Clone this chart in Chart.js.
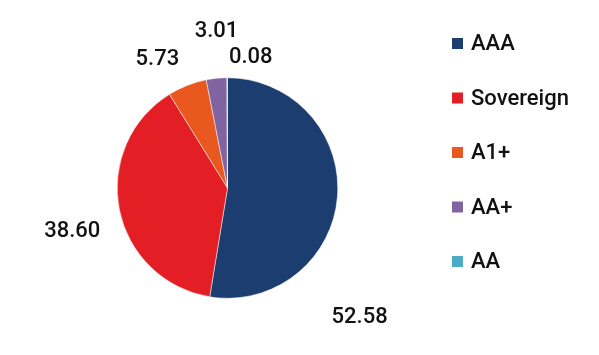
<!DOCTYPE html>
<html>
<head>
<meta charset="utf-8">
<script src="https://cdn.jsdelivr.net/npm/chart.js@4/dist/chart.umd.min.js"></script>
<style>
  html, body { margin: 0; padding: 0; background: #ffffff; }
  #wrap { width: 599px; height: 355px; position: relative; }
</style>
</head>
<body>
<div id="wrap"><canvas id="c" width="599" height="355"></canvas></div>
<script>
const categories = ["AAA", "Sovereign", "A1+", "AA+", "AA"];
const shares = [52.58, 38.60, 5.73, 3.01, 0.08];
const valueLabels = ["52.58", "38.60", "5.73", "3.01", "0.08"];
const colors = ["#1b3d6f", "#e31e24", "#e9581f", "#8064a2", "#4bacc6"];

const FONT = "Roboto, 'Noto Sans', Arial, sans-serif";

// label placement relative to slice: angle offset (deg) from mid-angle, radial factor
const labelPlacement = [
  { da: 39.5, k: 1.67 },
  { da: -4.0, k: 1.46 },
  { da: -7.0, k: 1.336 },
  { da: 1.7, k: 1.43 },
  { da: 10.2, k: 1.21 }
];

const valueLabelPlugin = {
  id: "valueLabels",
  afterDatasetsDraw(chart) {
    const ctx = chart.ctx;
    const meta = chart.getDatasetMeta(0);
    ctx.save();
    ctx.font = "500 22px " + FONT;
    ctx.fillStyle = "#111111";
    ctx.textAlign = "center";
    ctx.textBaseline = "middle";
    meta.data.forEach((arc, i) => {
      const p = arc.getProps(["x", "y", "startAngle", "endAngle", "outerRadius"], true);
      const mid = (p.startAngle + p.endAngle) / 2 + labelPlacement[i].da * Math.PI / 180;
      const r = p.outerRadius * labelPlacement[i].k;
      ctx.fillText(valueLabels[i], p.x + Math.cos(mid) * r, p.y + Math.sin(mid) * r + 1);
    });
    ctx.restore();
  }
};

const legendPlugin = {
  id: "sideLegend",
  afterDraw(chart) {
    const ctx = chart.ctx;
    const x0 = 452, y0 = 43.5, step = 54.5, box = 11;
    ctx.save();
    ctx.font = "500 22px " + FONT;
    ctx.textBaseline = "middle";
    ctx.textAlign = "left";
    chart.data.labels.forEach((lab, i) => {
      const y = y0 + i * step;
      ctx.fillStyle = chart.data.datasets[0].backgroundColor[i];
      ctx.fillRect(x0, y - box / 2, box, box);
      ctx.fillStyle = "#111111";
      ctx.fillText(lab, x0 + 19, y + 1);
    });
    ctx.restore();
  }
};

new Chart(document.getElementById("c"), {
  type: "pie",
  data: {
    labels: categories,
    datasets: [{
      data: shares,
      backgroundColor: colors,
      borderColor: "#ffffff",
      borderWidth: 0.5
    }]
  },
  options: {
    responsive: false,
    animation: false,
    layout: { padding: { left: 117, right: 261, top: 77, bottom: 56 } },
    plugins: {
      legend: { display: false },
      tooltip: { enabled: false }
    }
  },
  plugins: [valueLabelPlugin, legendPlugin]
});
</script>
</body>
</html>
